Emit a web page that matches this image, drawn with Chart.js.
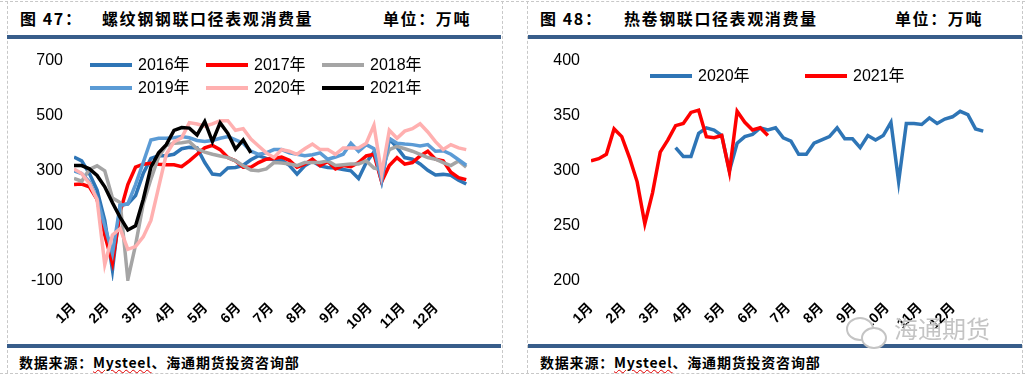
<!DOCTYPE html>
<html>
<head>
<meta charset="utf-8">
<script src="https://cdn.jsdelivr.net/npm/chart.js@4.4.0/dist/chart.umd.min.js"></script>
<style>
body{margin:0;width:1025px;height:375px;background:#fff;position:relative;overflow:hidden;font-family:"Liberation Sans",Arial,sans-serif}
.ttl{position:absolute;top:8px;font:bold 16px "Noto Sans CJK SC";letter-spacing:1.6px;white-space:nowrap;color:#000;line-height:20px}
.bar{position:absolute;height:4px;background:#385d8a}
.src{position:absolute;top:353px;font:bold 14px "Noto Sans CJK SC";letter-spacing:0.8px;white-space:nowrap;line-height:18px}
.src .my{text-decoration:underline wavy #e00000;text-decoration-thickness:1px}
.vd{position:absolute;width:0;border-left:1px dashed #c8c8c8}
.hd{position:absolute;height:0;border-top:1px dashed #c8c8c8}
.leg{position:absolute;font:16px "Liberation Sans","Noto Sans CJK SC";white-space:nowrap;line-height:20px}
.leg i{display:inline-block;width:42px;height:4px;vertical-align:middle;margin-right:6px;position:relative;top:-1px}
.cv{position:absolute;top:40px}
.wm{position:absolute;left:894px;top:313px;font:24px "Noto Sans CJK SC";color:#c4c4c4;line-height:30px}
.ring{position:absolute;border:2px solid #c4c4c4;border-radius:50%;background:#fff}
</style>
</head>
<body>

<div class="hd" style="left:0;top:1px;width:1025px"></div>
<div class="hd" style="left:0;top:373px;width:1025px"></div>
<div class="vd" style="left:7px;top:1px;height:372px"></div>
<div class="vd" style="left:502px;top:1px;height:372px"></div>
<div class="vd" style="left:527px;top:1px;height:372px"></div>
<div class="vd" style="left:1022px;top:1px;height:372px"></div>

<div class="ttl" style="left:20px">图 47：</div>
<div class="ttl" style="left:102px">螺纹钢钢联口径表观消费量</div>
<div class="ttl" style="left:383px">单位：万吨</div>
<div class="bar" style="left:7px;top:35px;width:494px"></div>
<div class="bar" style="left:7px;top:344px;width:494px"></div>
<div class="src" style="left:19px">数据来源：<span class="my">Mysteel</span>、海通期货投资咨询部</div>

<div class="ttl" style="left:540px">图 48：</div>
<div class="ttl" style="left:624px">热卷钢联口径表观消费量</div>
<div class="ttl" style="left:895px">单位：万吨</div>
<div class="bar" style="left:528px;top:35px;width:494px"></div>
<div class="bar" style="left:528px;top:344px;width:494px"></div>
<div class="src" style="left:540px">数据来源：<span class="my">Mysteel</span>、海通期货投资咨询部</div>

<canvas id="rebar" class="cv" style="left:7px" width="495" height="303"></canvas>
<canvas id="hrc" class="cv" style="left:527px" width="495" height="303"></canvas>

<div class="ring" style="left:846px;top:317px;width:24px;height:20px"></div>
<div class="ring" style="left:861px;top:327px;width:22px;height:18px"></div>
<div class="wm">海通期货</div>

<div id="legRebar"></div>
<div id="legHrc"></div>

<script>
var months = ["1月","2月","3月","4月","5月","6月","7月","8月","9月","10月","11月","12月"];
var monthStep = 4.28;

// 螺纹钢 weekly apparent consumption (万吨)
var rebarNames = ["2016年","2017年","2018年","2019年","2020年","2021年"];
var rebarColors = ["#2e75b6","#ff0000","#a5a5a5","#5b9bd5","#ffb0b0","#000000"];
var rebar2016 = [350,336,290,230,120,-60,175,180,210,290,345,355,355,360,380,385,383,330,288,285,310,312,320,340,355,345,
                 340,338,320,288,318,335,318,312,310,305,300,272,330,368,262,415,385,348,342,325,302,285,287,284,266,252];
var rebar2017 = [250,252,242,196,67,-35,150,250,313,324,327,324,322,322,315,336,360,383,392,377,348,336,313,313,330,342,
                 345,350,338,313,324,342,319,334,307,319,315,330,354,360,260,319,348,324,330,354,371,342,336,295,275,268];
var rebar2018 = [272,262,305,318,300,201,185,-95,30,180,270,350,392,400,402,406,380,368,360,354,348,336,318,303,300,307,
                 330,328,325,319,330,330,330,336,319,322,325,325,336,310,305,377,389,380,371,360,348,342,330,319,336,313];
var rebar2019 = [300,290,260,200,100,0,175,180,250,330,412,418,418,420,424,420,410,406,410,418,424,412,400,371,360,365,
                 377,377,365,360,355,358,365,342,350,360,400,371,395,380,265,418,400,397,395,390,395,371,373,360,340,320];
var rebar2020 = [307,290,254,196,-40,67,90,15,25,60,120,240,360,405,420,475,470,462,470,482,482,447,453,415,390,365,
                 348,377,371,360,380,397,377,377,360,383,383,383,400,465,289,447,418,444,453,471,441,406,377,395,383,377];
var rebar2021 = [319,319,307,283,242,184,131,85,100,196,313,365,395,447,457,455,430,479,406,474,436,379,412,365];
var rebarYTicks = {min:-100, max:700, step:200};

// 热卷 weekly apparent consumption (万吨)
var hrcNames = ["2020年","2021年"];
var hrcColors = ["#2e75b6","#ff0000"];
var hrc2020 = [null,null,null,null,null,null,null,null,null,null,null,
               321,313,313,334,339,337,332,300,325,331,333,339,337,339,330,327,315,315,325,328,331,339,
               329,329,321,332,328,332,344,290,343,343,342,348,343,347,349,354,351,338,336];
var hrc2021 = [309,311,315,338,331,312,290,252,280,317,328,341,343,353,355,331,330,332,299,354,344,337,339,332];
var hrcYTicks = {min:200, max:400, step:50};

function pts(arr){
  return arr.map(function(v,i){ return {x:i, y:v}; });
}

function makeChart(id, names, colors, series, yt, leftW, rightPad){
  var datasets = series.map(function(s,k){
    return {
      label: names[k],
      data: pts(s),
      borderColor: colors[k],
      backgroundColor: colors[k],
      borderWidth: 3.5,
      pointRadius: 0,
      tension: 0,
      order: series.length - k
    };
  });
  return new Chart(document.getElementById(id), {
    type: "line",
    data: {datasets: datasets},
    options: {
      responsive: false,
      animation: false,
      devicePixelRatio: 1,
      layout: {padding: {top: 13, right: rightPad, left: 0, bottom: 0}},
      plugins: {legend: {display: false}, tooltip: {enabled: false}},
      scales: {
        x: {
          type: "linear",
          min: 0,
          max: 55,
          grid: {display: false, drawTicks: false},
          border: {display: false},
          afterFit: function(s){ s.height = 62; },
          afterBuildTicks: function(s){
            s.ticks = months.map(function(m,k){ return {value: k*monthStep}; });
          },
          ticks: {
            autoSkip: false,
            minRotation: 45,
            maxRotation: 45,
            padding: 19,
            color: "#000",
            font: {family: "Liberation Sans, Noto Sans CJK SC", size: 14, weight: "bold"},
            callback: function(v, i){ return months[i]; }
          }
        },
        y: {
          min: yt.min,
          max: yt.max,
          grid: {display: false, drawTicks: false},
          border: {display: false},
          afterFit: function(s){ s.width = leftW; },
          ticks: {
            stepSize: yt.step,
            padding: 11,
            color: "#000",
            font: {family: "Liberation Sans", size: 16}
          }
        }
      }
    }
  });
}

makeChart("rebar", rebarNames, rebarColors,
  [rebar2016, rebar2017, rebar2018, rebar2019, rebar2020, rebar2021], rebarYTicks, 67, 5);
makeChart("hrc", hrcNames, hrcColors, [hrc2020, hrc2021], hrcYTicks, 64, 8);

// legends drawn as html text
function legend(boxId, names, colors, x0, y0, dx, dy, cols){
  var box = document.getElementById(boxId);
  names.forEach(function(n,k){
    var d = document.createElement("div");
    d.className = "leg";
    d.style.left = (x0 + (k % cols) * dx) + "px";
    d.style.top = (y0 + Math.floor(k / cols) * dy - 10) + "px";
    d.innerHTML = '<i style="background:' + colors[k] + '"></i>' + n;
    box.appendChild(d);
  });
}
legend("legRebar", rebarNames, rebarColors, 90, 65, 116, 23, 3);
legend("legHrc", hrcNames, hrcColors, 650, 76, 155, 0, 2);
</script>
</body>
</html>
